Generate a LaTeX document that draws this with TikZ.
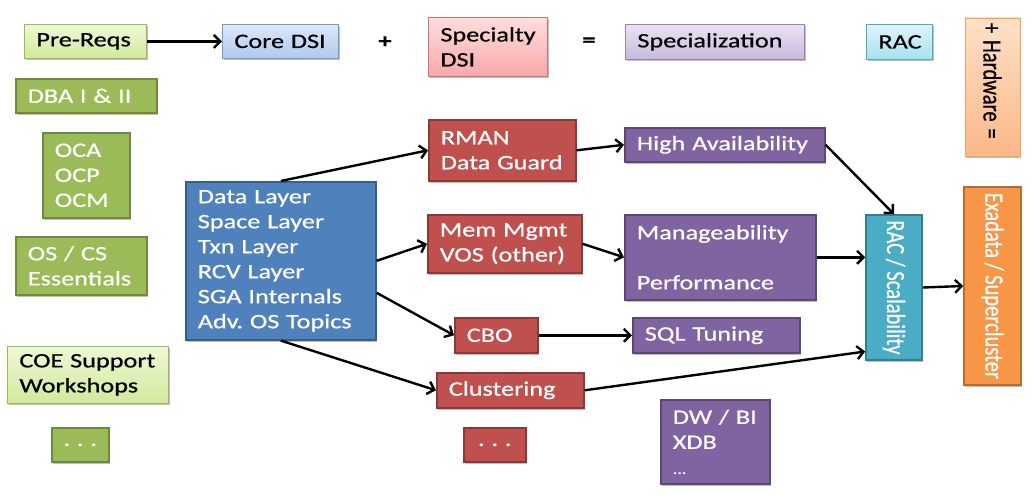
\documentclass[tikz,border=0pt]{standalone}
\usepackage{graphicx}
\usepackage{fontspec}
\setmainfont{Carlito}[FakeStretch=1.28,FakeBold=0.6]
\newfontfamily\rotfont{Carlito}[FakeBold=0.6]
\usetikzlibrary{arrows.meta,shadows}
\definecolor{gfill}{HTML}{9BBB59}\definecolor{gline}{HTML}{71893F}
\definecolor{bfill}{HTML}{4F81BD}\definecolor{bline}{HTML}{385D8A}
\definecolor{rfill}{HTML}{C0504D}\definecolor{rline}{HTML}{8C3836}
\definecolor{pfill}{HTML}{8064A2}\definecolor{pline}{HTML}{5C4776}
\definecolor{afill}{HTML}{4BACC6}\definecolor{aline}{HTML}{357D91}
\definecolor{ofill}{HTML}{F79646}\definecolor{oline}{HTML}{B66D31}
\definecolor{lgtop}{HTML}{EFF8D6}\definecolor{lgbot}{HTML}{D2E99C}
\definecolor{lbtop}{HTML}{DCE8F8}\definecolor{lbbot}{HTML}{AECAEE}
\definecolor{lptop}{HTML}{FFDEDE}\definecolor{lpbot}{HTML}{F8A8A8}
\definecolor{lvtop}{HTML}{EAE3F3}\definecolor{lvbot}{HTML}{C8B8DE}
\definecolor{lctop}{HTML}{DFF4FA}\definecolor{lcbot}{HTML}{A9E0EE}
\definecolor{lotop}{HTML}{FDE0C6}\definecolor{lobot}{HTML}{FBB888}
\newcommand\rottext[1]{\scalebox{1}[1.28]{#1}}
\tikzset{
  shad/.style={drop shadow={shadow xshift=1.2pt, shadow yshift=-1.8pt, opacity=0.25, fill=black}},
  base/.style={rectangle, anchor=north west, inner xsep=12pt, inner ysep=1pt,
    align=left, font=\fontsize{20.5}{25}\selectfont, shad},
  dark/.style={base, text=white, line width=1.6pt},
  gbox/.style={dark, fill=gfill, draw=gline},
  bbox/.style={dark, fill=bfill, draw=bline},
  rbox/.style={dark, fill=rfill, draw=rline},
  pbox/.style={dark, fill=pfill, draw=pline},
  abox/.style={dark, fill=afill, draw=aline},
  obox/.style={dark, fill=ofill, draw=oline},
  light/.style={base, text=black, line width=0.8pt},
  lg/.style={light, top color=lgtop, bottom color=lgbot, draw=gfill},
  lb/.style={light, top color=lbtop, bottom color=lbbot, draw=bfill!80},
  lp/.style={light, top color=lptop, bottom color=lpbot, draw=rfill!80},
  lv/.style={light, top color=lvtop, bottom color=lvbot, draw=pfill!80},
  lc/.style={light, top color=lctop, bottom color=lcbot, draw=afill},
  lo/.style={light, top color=lotop, bottom color=lobot, draw=ofill!90},
  rot/.style={anchor=center, rotate=-90, inner xsep=5pt,
    font=\rotfont\fontsize{20.5}{25}\selectfont},
  arr/.style={line width=2.4pt, -{Straight Barb[length=6.5pt,width=13pt]}},
  sym/.style={font=\fontsize{20.5}{25}\selectfont, inner sep=0pt}
}
\begin{document}
\begin{tikzpicture}[x=1pt,y=-1pt]
\useasboundingbox (0,0) rectangle (1036,495);
% top row
\node[lg, minimum width=122pt, minimum height=34pt, text width=98pt] (pre) at (24,24) {Pre-Reqs};
\node[lb, minimum width=116pt, minimum height=34pt, text width=92pt] (core) at (222,24) {Core~DSI};
\node[sym] (plus) at (385,42) {\textbf{+}};
\node[lp, minimum width=119pt, minimum height=59pt, text width=95pt] (spec) at (428,17) {Specialty\\DSI};
\node[sym] (eq) at (589,42) {\textbf{=}};
\node[lv, minimum width=179pt, minimum height=35pt, text width=155pt] (spz) at (625,24) {Specialization};
\node[lc, minimum width=66pt, minimum height=35pt, text width=42pt] (rac) at (866,24) {RAC};
\node[lo, rot, minimum width=138pt, minimum height=55pt, text width=128pt] (hw) at (992.5,87) {\rottext{+~Hardware~=}};
% left column
\node[gbox, minimum width=141pt, minimum height=34pt, text width=117pt] (dba) at (15,78) {DBA~I~\&~II};
\node[gbox, minimum width=87pt, minimum height=85pt, text width=63pt] (oca) at (42,132) {OCA\\OCP\\OCM};
\node[gbox, minimum width=131pt, minimum height=58pt, text width=107pt] (os) at (15,236) {OS~/~CS\\Essentials};
\node[lg, minimum width=161pt, minimum height=57pt, text width=137pt] (coe) at (7,346) {COE~Support\\Workshops};
\node[gbox, minimum width=57pt, minimum height=34pt, inner xsep=0pt, text width=57pt, align=center] (gdots) at (51,427) {.~.~.};
% core
\node[bbox, minimum width=190pt, minimum height=158pt, text width=166pt] (core2) at (185,181)
  {Data~Layer\\Space~Layer\\Txn~Layer\\RCV~Layer\\SGA~Internals\\Adv.~OS~Topics};
% red column
\node[rbox, minimum width=147pt, minimum height=61pt, text width=123pt] (rman) at (428,119) {RMAN\\Data~Guard};
\node[rbox, minimum width=154pt, minimum height=58pt, text width=130pt] (mem) at (427,214) {Mem~Mgmt\\VOS~(other)};
\node[rbox, minimum width=83pt, minimum height=35pt, text width=59pt] (cbo) at (454,317) {CBO};
\node[rbox, minimum width=147pt, minimum height=35pt, text width=123pt] (clu) at (436,372) {Clustering};
\node[rbox, minimum width=62pt, minimum height=34pt, inner xsep=0pt, text width=62pt, align=center] (rdots) at (463,427) {.~.~.};
% purple column
\node[pbox, minimum width=200pt, minimum height=34pt, text width=176pt] (ha) at (624,127) {High~Availability};
\node[pbox, minimum width=191pt, minimum height=85pt, text width=167pt] (man) at (624,214) {Manageability\\[25pt]Performance};
\node[pbox, minimum width=167pt, minimum height=35pt, text width=143pt] (sql) at (632,317) {SQL~Tuning};
\node[pbox, minimum width=109pt, minimum height=84pt, text width=85pt] (dw) at (660,399) {DW~/~BI\\XDB\\{\fontsize{14}{16}\selectfont ...}};
% right
\node[abox, rot, minimum width=145pt, minimum height=56pt, align=center] (racs) at (894,287.5) {\rottext{RAC~/~Scalability}};
\node[obox, rot, minimum width=198pt, minimum height=57pt, align=center] (exa) at (992.5,286) {\rottext{Exadata~/~Supercluster}};
% arrows
\draw[arr] (pre.east) -- (core.west);
\draw[arr] (core2.north) -- (rman.west);
\draw[arr] (core2.east) -- (mem.west);
\draw[arr] ([yshift=-32pt]core2.east) -- (cbo.west);
\draw[arr] (core2.south) -- (clu.west);
\draw[arr] (rman.east) -- (ha.west);
\draw[arr] (mem.east) -- (man.west);
\draw[arr] (cbo.east) -- (sql.west);
\draw[arr] (ha.east) -- (racs.west);
\draw[arr] (man.east) -- (man.east -| racs.south);
\draw[arr] (clu.east) -- ([yshift=-64pt]racs.south);
\draw[arr] (racs.north) -- (exa.south);
\end{tikzpicture}
\end{document}
